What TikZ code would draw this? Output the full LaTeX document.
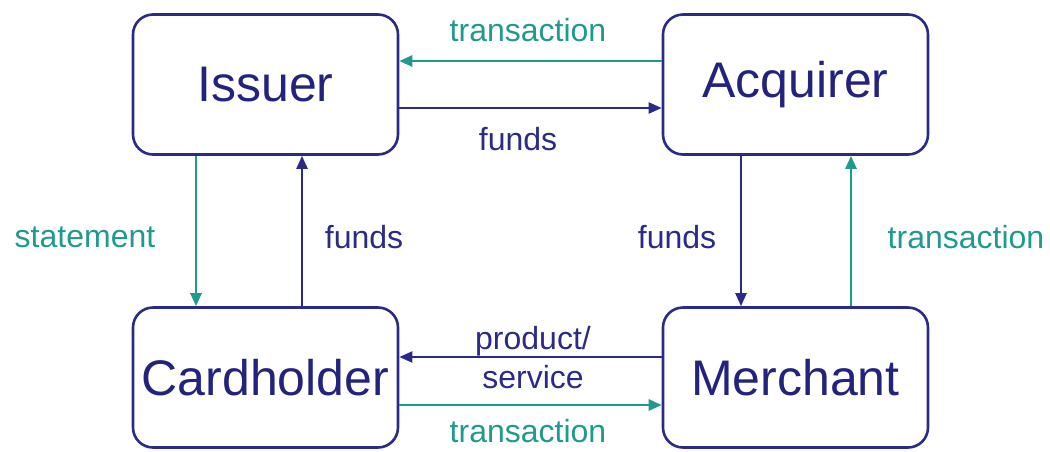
\documentclass[tikz,border=0pt]{standalone}
\usepackage{fontspec}
\setmainfont{Liberation Sans}
\usetikzlibrary{arrows.meta}
\definecolor{navy}{HTML}{2B2A86}
\definecolor{teal2}{HTML}{1F9A8C}
\definecolor{boxtext}{HTML}{23237E}
\begin{document}
\begin{tikzpicture}[x=1pt,y=-1pt,
  party/.style={draw=navy, line width=2.6pt, rounded corners=20pt, minimum width=265pt, minimum height=140pt, inner sep=0pt, font=\fontsize{50}{56}\selectfont, text=boxtext},
  navyarrow/.style={draw=navy, line width=2pt, -{Triangle[length=13pt,width=11pt]}},
  tealarrow/.style={draw=teal2, line width=2.6pt, -{Triangle[length=13pt,width=11pt]}},
  navylab/.style={font=\fontsize{32}{39}\selectfont, text=navy},
  teallab/.style={font=\fontsize{32}{39}\selectfont, text=teal2}]
\useasboundingbox (0,0) rectangle (1050,451);
\node[party] (iss) at (265.5,84.5) {Issuer};
\node[party] (acq) at (795.5,84.5) {Acquirer};
\node[party] (card) at (265.5,377.5) {Cardholder};
\node[party] (mer) at (795.5,377.5) {Merchant};
% top arrows
\draw[tealarrow] (acq.west |- 0,61) -- (iss.east |- 0,61);
\draw[navyarrow] (iss.east |- 0,108) -- (acq.west |- 0,108);
\node[teallab] (l1) at (528,30) {transaction};
\node[navylab] (l2) at (518,139) {funds};
% left vertical arrows
\draw[tealarrow] (iss.south -| 196,0) -- (card.north -| 196,0);
\draw[navyarrow] (card.north -| 302,0) -- (iss.south -| 302,0);
\node[teallab] (l3) at (85,237) {statement};
\node[navylab] (l4) at (364,237) {funds};
% right vertical arrows
\draw[navyarrow] (acq.south -| 741,0) -- (mer.north -| 741,0);
\draw[tealarrow] (mer.north -| 851,0) -- (acq.south -| 851,0);
\node[navylab] (l5) at (677,237) {funds};
\node[teallab] (l6) at (966,237) {transaction};
% bottom arrows
\draw[navyarrow] (mer.west |- 0,357) -- (card.east |- 0,357);
\draw[tealarrow] (card.east |- 0,405) -- (mer.west |- 0,405);
\node[navylab, align=center, inner sep=0pt] (l7) at (533,358) {product/\\service};
\node[teallab, inner sep=0pt, anchor=base] (l8) at (528,442) {transaction};
\end{tikzpicture}
\end{document}
